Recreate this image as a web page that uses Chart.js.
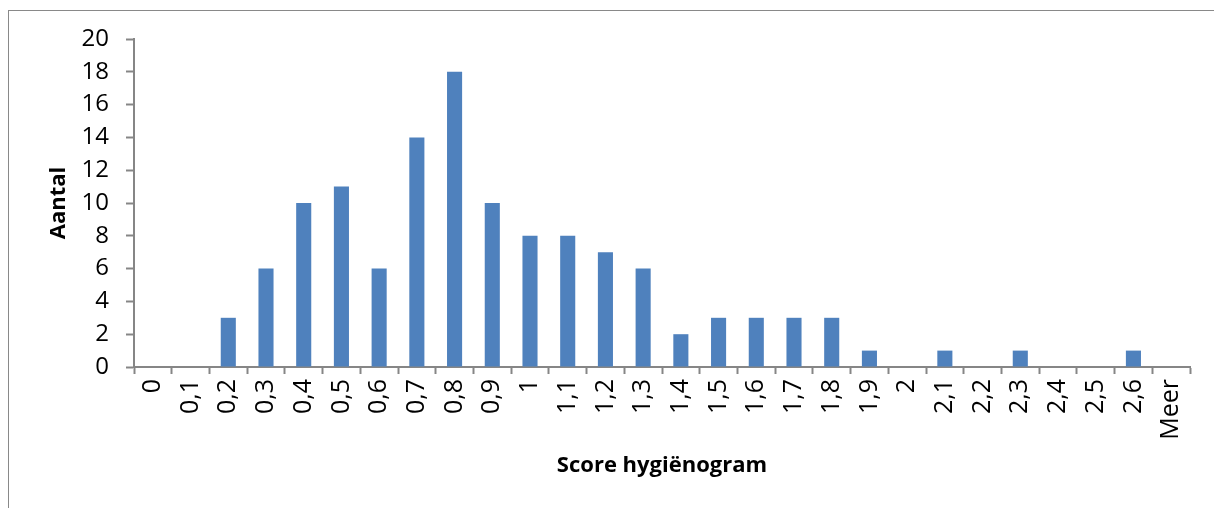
<!DOCTYPE html>
<html>
<head>
<meta charset="utf-8">
<script src="https://cdn.jsdelivr.net/npm/chart.js@4"></script>
<style>
  html, body { margin: 0; padding: 0; background: #fff; overflow: hidden; }
  #wrap { position: relative; width: 1214px; height: 508px; }
  #frame { position: absolute; left: 8px; top: 10px; width: 1220px; height: 520px; border: 1px solid #898989; box-sizing: border-box; }
  #chart { position: absolute; left: 0; top: 0; }
</style>
</head>
<body>
<div id="wrap">
  <div id="frame"></div>
  <canvas id="chart" width="1214" height="508"></canvas>
</div>
<script>
// scores (klassen) en aantallen
const categories = ['0', '0,1', '0,2', '0,3', '0,4', '0,5', '0,6', '0,7', '0,8', '0,9',
  '1', '1,1', '1,2', '1,3', '1,4', '1,5', '1,6', '1,7', '1,8', '1,9',
  '2', '2,1', '2,2', '2,3', '2,4', '2,5', '2,6', 'Meer'];
const aantal = [0, 0, 3, 6, 10, 11, 6, 14, 18, 10,
  8, 8, 7, 6, 2, 3, 3, 3, 3, 1,
  0, 1, 0, 1, 0, 0, 1, 0];
const yTicks = [0, 2, 4, 6, 8, 10, 12, 14, 16, 18, 20];

const fontFam = "'Open Sans', sans-serif";
const axisColor = '#868686';

const ctx = document.getElementById('chart').getContext('2d');
const histChart = new Chart(ctx, {
  type: 'bar',
  data: {
    labels: categories,
    datasets: [{
      label: 'Aantal',
      data: aantal,
      backgroundColor: '#4F81BD',
      borderWidth: 0,
      categoryPercentage: 1,
      barPercentage: 0.4,
    }],
  },
  options: {
    responsive: false,
    animation: false,
    layout: { padding: { left: 46, right: 24, top: 39, bottom: 20 } },
    plugins: {
      legend: { display: false },
      tooltip: { enabled: false },
    },
    scales: {
      x: {
        grid: {
          drawOnChartArea: false,
          offset: true,
          color: axisColor,
          tickLength: 7,
          tickWidth: 2,
        },
        border: { color: axisColor, width: 2 },
        ticks: {
          color: '#000',
          font: { family: fontFam, size: 25 },
          minRotation: 90,
          maxRotation: 90,
          autoSkip: false,
          padding: 5,
        },
        title: {
          display: true,
          text: 'Score hygiënogram',
          color: '#000',
          font: { family: fontFam, size: 22, weight: 'bold' },
          padding: { top: 0, bottom: 9 },
        },
        afterFit: (scale) => { scale.height = 121; },
      },
      y: {
        min: 0,
        max: 20,
        afterBuildTicks: (scale) => { scale.ticks = yTicks.map(v => ({ value: v })); },
        grid: {
          drawOnChartArea: false,
          color: axisColor,
          tickLength: 8,
          tickWidth: 2,
        },
        border: { color: axisColor, width: 2 },
        ticks: {
          color: '#000',
          font: { family: fontFam, size: 24 },
          padding: 17,
          autoSkip: false,
        },
        title: {
          display: true,
          text: 'Aantal',
          color: '#000',
          font: { family: fontFam, size: 22, weight: 'bold' },
          padding: 0,
        },
        afterFit: (scale) => { scale.width = 88; },
      },
    },
  },
});
</script>
</body>
</html>
